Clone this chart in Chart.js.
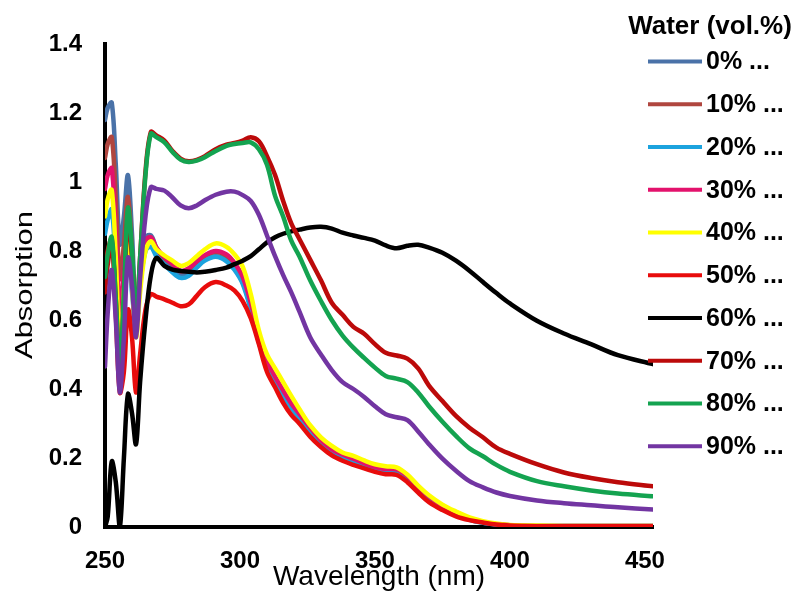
<!DOCTYPE html>
<html>
<head>
<meta charset="utf-8">
<title>Absorption vs wavelength</title>
<script src="https://cdn.jsdelivr.net/npm/chart.js@4/dist/chart.umd.min.js"></script>
<style>
  html, body { margin: 0; padding: 0; background: #fff; }
  #wrap { width: 797px; height: 594px; position: relative; }
</style>
</head>
<body>
<div id="wrap"><canvas id="c"></canvas></div>
<script>
// Wavelength grid (nm) shared by every spectrum
const wavelengths = [250, 251, 252.5, 254, 255.5, 257, 258.5, 260, 261.5, 263,
  265, 267, 269, 272, 275, 278, 281, 284, 287, 291,
  295, 298, 301, 304, 307, 310, 313, 316, 319, 322,
  326, 330, 334, 338, 342, 346, 350, 354, 358, 362,
  366, 370, 375, 380, 385, 390, 395, 400, 410, 420,
  430, 440, 453];

// Absorption spectra, one per water fraction
const water0 = [1.18, 1.215, 1.23, 1.05, 0.82, 0.9, 1.02, 0.85, 0.62, 0.72,
  0.84, 0.845, 0.81, 0.775, 0.755, 0.732, 0.738, 0.758, 0.775, 0.785,
  0.775, 0.75, 0.71, 0.635, 0.54, 0.47, 0.425, 0.385, 0.35, 0.32,
  0.28, 0.245, 0.22, 0.205, 0.193, 0.18, 0.17, 0.163, 0.162, 0.143,
  0.112, 0.085, 0.058, 0.037, 0.022, 0.013, 0.008, 0.005, 0.003, 0.002,
  0.002, 0.002, 0.002];
const water10 = [1.07, 1.11, 1.13, 0.95, 0.72, 0.82, 0.957, 0.8, 0.6, 0.71,
  0.83, 0.838, 0.808, 0.78, 0.762, 0.742, 0.748, 0.768, 0.785, 0.797,
  0.787, 0.762, 0.72, 0.645, 0.55, 0.478, 0.432, 0.392, 0.355, 0.325,
  0.285, 0.25, 0.224, 0.208, 0.196, 0.183, 0.172, 0.166, 0.165, 0.146,
  0.115, 0.087, 0.06, 0.038, 0.023, 0.014, 0.008, 0.005, 0.003, 0.003,
  0.003, 0.003, 0.003];
const water20 = [0.85, 0.89, 0.92, 0.75, 0.55, 0.68, 0.8, 0.68, 0.58, 0.7,
  0.8, 0.812, 0.785, 0.76, 0.738, 0.722, 0.728, 0.752, 0.772, 0.783,
  0.77, 0.745, 0.705, 0.63, 0.535, 0.465, 0.42, 0.38, 0.345, 0.316,
  0.278, 0.243, 0.218, 0.203, 0.191, 0.178, 0.168, 0.162, 0.161, 0.142,
  0.11, 0.083, 0.056, 0.035, 0.021, 0.012, 0.007, 0.004, 0.003, 0.003,
  0.003, 0.003, 0.003];
const water30 = [0.98, 1.02, 1.04, 0.85, 0.62, 0.75, 0.88, 0.72, 0.58, 0.72,
  0.83, 0.84, 0.81, 0.782, 0.762, 0.742, 0.75, 0.77, 0.788, 0.8,
  0.79, 0.765, 0.725, 0.65, 0.555, 0.482, 0.436, 0.396, 0.358, 0.328,
  0.288, 0.252, 0.226, 0.21, 0.198, 0.185, 0.174, 0.168, 0.167, 0.148,
  0.117, 0.089, 0.061, 0.039, 0.024, 0.014, 0.008, 0.005, 0.003, 0.003,
  0.003, 0.003, 0.003];
const water40 = [0.9, 0.95, 0.977, 0.78, 0.52, 0.68, 0.84, 0.7, 0.55, 0.68,
  0.8, 0.828, 0.805, 0.787, 0.772, 0.757, 0.765, 0.785, 0.805, 0.822,
  0.812, 0.79, 0.755, 0.675, 0.57, 0.5, 0.46, 0.42, 0.38, 0.342,
  0.295, 0.26, 0.235, 0.216, 0.206, 0.193, 0.182, 0.176, 0.173, 0.152,
  0.12, 0.092, 0.065, 0.045, 0.028, 0.017, 0.01, 0.006, 0.004, 0.003,
  0.003, 0.003, 0.003];
const water50 = [0.72, 0.8, 0.835, 0.62, 0.39, 0.45, 0.63, 0.55, 0.39, 0.5,
  0.63, 0.675, 0.668, 0.66, 0.65, 0.64, 0.645, 0.67, 0.695, 0.71,
  0.7, 0.685, 0.655, 0.605, 0.53, 0.45, 0.405, 0.36, 0.325, 0.3,
  0.262, 0.232, 0.208, 0.192, 0.18, 0.17, 0.16, 0.153, 0.151, 0.13,
  0.1, 0.072, 0.049, 0.031, 0.02, 0.013, 0.007, 0.004, 0.002, 0.002,
  0.002, 0.002, 0.002];
const water60 = [0, 0.03, 0.19, 0.13, 0, 0.2, 0.385, 0.33, 0.24, 0.42,
  0.6, 0.73, 0.78, 0.757, 0.746, 0.742, 0.74, 0.738, 0.74, 0.745,
  0.752, 0.762, 0.772, 0.785, 0.805, 0.825, 0.84, 0.85, 0.857, 0.862,
  0.868, 0.87, 0.865, 0.853, 0.845, 0.838, 0.83, 0.816, 0.808, 0.815,
  0.818, 0.81, 0.795, 0.772, 0.743, 0.71, 0.678, 0.648, 0.598, 0.561,
  0.53, 0.498, 0.472];
const water70 = [0.68, 0.76, 0.82, 0.66, 0.46, 0.66, 0.9, 0.78, 0.6, 0.78,
  1.03, 1.145, 1.135, 1.12, 1.09, 1.068, 1.06, 1.064, 1.075, 1.095,
  1.108, 1.113, 1.12, 1.13, 1.118, 1.075, 1.02, 0.945, 0.88, 0.835,
  0.775, 0.715, 0.65, 0.615, 0.58, 0.56, 0.53, 0.505, 0.497, 0.488,
  0.46, 0.41, 0.365, 0.322, 0.288, 0.26, 0.23, 0.212, 0.182, 0.158,
  0.142, 0.13, 0.118];
const water80 = [0.725, 0.79, 0.84, 0.66, 0.45, 0.68, 0.925, 0.8, 0.6, 0.78,
  1.02, 1.14, 1.13, 1.115, 1.087, 1.065, 1.058, 1.062, 1.072, 1.09,
  1.105, 1.11, 1.113, 1.115, 1.095, 1.05, 0.96, 0.9, 0.83, 0.785,
  0.715, 0.655, 0.6, 0.555, 0.52, 0.49, 0.462, 0.438, 0.43, 0.42,
  0.39, 0.35, 0.305, 0.264, 0.228, 0.205, 0.18, 0.16, 0.133, 0.118,
  0.106, 0.097, 0.089];
const water90 = [0.465, 0.62, 0.745, 0.6, 0.39, 0.55, 0.78, 0.7, 0.55, 0.72,
  0.9, 0.985, 0.98, 0.975, 0.955, 0.932, 0.924, 0.932, 0.947, 0.963,
  0.972, 0.972, 0.962, 0.945, 0.905, 0.845, 0.785, 0.73, 0.68, 0.625,
  0.55, 0.5, 0.455, 0.42, 0.4, 0.377, 0.35, 0.327, 0.318, 0.31,
  0.277, 0.24, 0.198, 0.163, 0.133, 0.115, 0.1, 0.09, 0.077, 0.069,
  0.063, 0.057, 0.051];

const seriesNames = ['0% ...', '10% ...', '20% ...', '30% ...', '40% ...',
  '50% ...', '60% ...', '70% ...', '80% ...', '90% ...'];
const seriesColors = ['#4A72A8', '#B0463F', '#1CA3DE', '#E3126C', '#FFFF00',
  '#E80C0C', '#000000', '#BC0A0A', '#14A350', '#7235A2'];

const xTicks = [250, 300, 350, 400, 450];
const yTicks = [0, 0.2, 0.4, 0.6, 0.8, 1, 1.2, 1.4];

const legendTitle = 'Water (vol.%)';
const xTitle = 'Wavelength (nm)';
const yTitle = 'Absorption';

const FONT = "'Liberation Sans', Arial, sans-serif";
const seriesValues = [water0, water10, water20, water30, water40,
  water50, water60, water70, water80, water90];

const datasets = seriesValues.map((vals, i) => ({
  label: seriesNames[i],
  data: wavelengths.map((w, j) => ({ x: w, y: vals[j] })),
  borderColor: seriesColors[i],
  backgroundColor: seriesColors[i],
  borderWidth: 4.5,
  pointRadius: 0,
  pointHoverRadius: 0,
  tension: 0.35,
  borderJoinStyle: 'round',
  borderCapStyle: 'round',
  fill: false,
  // later fractions are painted over earlier ones
  order: seriesValues.length - i
}));

// Rotated, horizontally stretched y-axis caption
const yTitlePlugin = {
  id: 'yCaption',
  afterDraw(chart) {
    const ctx = chart.ctx;
    ctx.save();
    ctx.font = '24px ' + FONT;
    const w = ctx.measureText(yTitle).width;
    ctx.translate(25, 285);
    ctx.rotate(-Math.PI / 2);
    ctx.scale(148 / w, 1);
    ctx.fillStyle = '#000';
    ctx.textAlign = 'center';
    ctx.textBaseline = 'middle';
    ctx.fillText(yTitle, 0, 0);
    ctx.restore();
  }
};

// Legend column at the right, overlapping the plot edge
const legendPlugin = {
  id: 'sideLegend',
  afterDraw(chart) {
    const ctx = chart.ctx;
    ctx.save();
    ctx.fillStyle = '#000';
    ctx.font = 'bold 26px ' + FONT;
    ctx.textAlign = 'center';
    ctx.textBaseline = 'middle';
    ctx.fillText(legendTitle, 710, 27);
    ctx.font = 'bold 25px ' + FONT;
    ctx.textAlign = 'left';
    chart.data.datasets.forEach((ds, i) => {
      const y = 61.5 + 42.75 * i;
      ctx.strokeStyle = ds.borderColor;
      ctx.lineWidth = 4;
      ctx.lineCap = 'butt';
      ctx.beginPath();
      ctx.moveTo(648, y);
      ctx.lineTo(702, y);
      ctx.stroke();
      ctx.fillText(ds.label, 706, y + 1);
    });
    ctx.restore();
  }
};

const tickFont = { family: FONT, size: 24, weight: 'bold' };

new Chart(document.getElementById('c'), {
  type: 'line',
  data: { datasets },
  plugins: [yTitlePlugin, legendPlugin],
  options: {
    responsive: true,
    maintainAspectRatio: false,
    animation: false,
    events: [],
    layout: { padding: { left: 0, right: 144, top: 44, bottom: 0 } },
    plugins: {
      legend: { display: false },
      tooltip: { enabled: false }
    },
    scales: {
      x: {
        type: 'linear',
        min: 250,
        max: 453,
        afterBuildTicks: s => { s.ticks = xTicks.map(v => ({ value: v })); },
        afterFit: s => { s.height = 67; },
        grid: { display: false, drawTicks: false },
        border: { display: true, color: '#000', width: 4 },
        ticks: {
          color: '#000', font: tickFont, padding: 20,
          maxRotation: 0, autoSkip: false,
          callback: v => String(v)
        },
        title: {
          display: true, text: xTitle, color: '#000',
          font: { family: FONT, size: 28 },
          padding: { top: 0, bottom: 0 }
        }
      },
      y: {
        type: 'linear',
        min: 0,
        max: 1.4,
        afterBuildTicks: s => { s.ticks = yTicks.map(v => ({ value: v })); },
        afterFit: s => { s.width = 105; },
        grid: { display: false, drawTicks: false },
        border: { display: true, color: '#000', width: 4 },
        ticks: {
          color: '#000', font: tickFont, padding: 23, autoSkip: false,
          callback: v => String(Math.round(v * 10) / 10)
        }
      }
    }
  }
});
</script>
</body>
</html>
